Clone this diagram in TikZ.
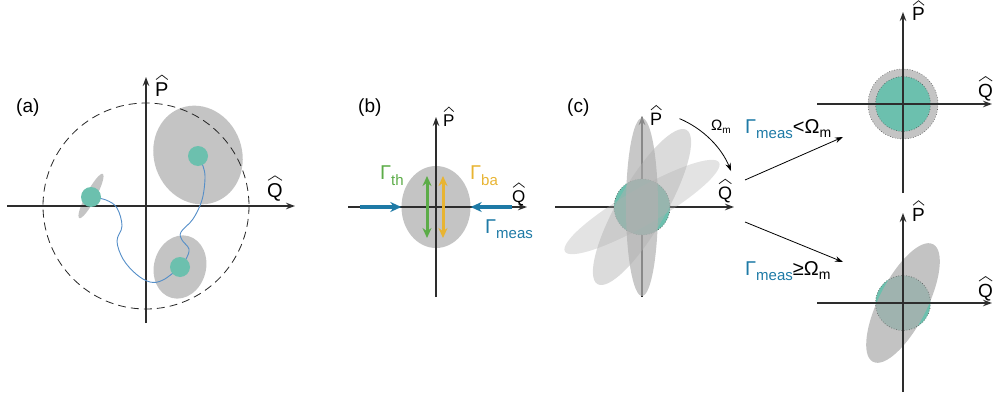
\documentclass[tikz,border=0pt]{standalone}
\usepackage{fontspec}
\setmainfont{Liberation Sans}
\usetikzlibrary{arrows.meta, calc, shapes.geometric, positioning}

\definecolor{qteal}{RGB}{108,192,174}
\definecolor{qgray}{RGB}{196,196,196}
\definecolor{qshade}{RGB}{176,176,176}
\definecolor{qaxis}{RGB}{45,45,45}
\definecolor{qpath}{RGB}{84,142,200}
\definecolor{qmeas}{RGB}{30,122,166}
\definecolor{qth}{RGB}{92,172,72}
\definecolor{qba}{RGB}{232,180,50}

\tikzset{
  qpaxis/.style={draw=qaxis, line width=1.2pt, -{Stealth[length=9pt,width=6.5pt]}},
  axlabel/.style={font=\fontsize{#1}{#1}\selectfont, inner sep=0pt, anchor=base west},
  panellabel/.style={font=\fontsize{19}{19}\selectfont, inner sep=0pt, anchor=base west},
  hatline/.style={draw=black!85, line width=0.8pt, line join=miter}
}
\tikzset{
  noise/.style={fill=qgray},
  squeeze/.style={fill=qshade, fill opacity=#1},
  tealdot/.style={circle, fill=qteal, minimum size=20pt, inner sep=0pt},
  rim/.style={draw=black!70, line width=0.6pt, dotted},
  bound/.style={draw=black!85, line width=0.8pt, dash pattern=on 8pt off 5pt},
  trajectory/.style={draw=qpath, line width=0.9pt},
  ratearrow/.style={draw=qmeas, line width=3.4pt, -{Stealth[length=11pt,width=10pt]}},
  swing/.style={line width=3pt, {Stealth[length=10pt,width=9pt]}-{Stealth[length=10pt,width=9pt]}},
  thinarrow/.style={draw=black, line width=0.8pt, -{Stealth[length=8pt,width=5.5pt]}},
  ratelabel/.style={font=\fontsize{20}{20}\selectfont, inner sep=0pt, anchor=base west}
}
% sub-script set lower and smaller
\newcommand{\lowsub}[3]{\raisebox{-#2pt}{\fontsize{#1}{#1}\selectfont #3}}
% operator letter with its hat: name, position, size, letter
\newcommand{\oplabel}[4]{%
  \node[axlabel=#3] (#1) at (#2) {#4};
  \draw[hatline] ($(#1.north west)+(1,-2.5)$) -- ($(#1.north)+(0,-7)$) -- ($(#1.north east)+(-1,-2.5)$);
}
% quadrature axes round a named origin: left, right, down, up
\newcommand{\qpaxes}[5]{%
  \draw[qpaxis] ($(#1)+(-#2,0)$) -- ($(#1)+(#3,0)$);
  \draw[qpaxis] ($(#1)+(0,#4)$) -- ($(#1)+(0,-#5)$);
}

\begin{document}
\begin{tikzpicture}[x=1pt, y=-1pt]
  \useasboundingbox (0,0) rectangle (993,396);

  % (a) trajectory of the state
  \coordinate (oa) at (146,206);
  \node[panellabel] (la) at (16,112) {(a)};
  \fill[noise, shift={(198,155)}, rotate=110] (0,0) ellipse[x radius=50, y radius=44];
  \fill[noise, shift={(91,196)}, rotate=62] (0,0) ellipse[x radius=25, y radius=5];
  \fill[noise, shift={(180,267)}, rotate=75] (0,0) ellipse[x radius=32, y radius=26];
  \qpaxes{oa}{139}{149}{117}{129}
  \draw[bound] (oa) circle[radius=103];
  \oplabel{pa}{155,96}{20}{P}
  \oplabel{qa}{267,197}{20}{Q}
  \coordinate (pL) at (91,197);
  \coordinate (pD) at (180,267);
  \coordinate (pU) at (198,156);
  \draw[trajectory] plot[smooth, tension=0.6] coordinates {
    (pL) (106,200) (117,208) (122,226) (117,241) (123,259) (136,274)
    (150,282) (163,280) (pD) (186,259) (189,249) (182,240) (181,232)
    (193,219) (202,200) (205,178) (203,166) (pU)};
  \node[tealdot] (dotL) at (pL) {};
  \node[tealdot] (dotD) at (pD) {};
  \node[tealdot] (dotU) at (pU) {};

  % (b) rates
  \coordinate (ob) at (436,207);
  \node[panellabel] (lb) at (358,112) {(b)};
  \node[noise, ellipse, minimum width=69pt, minimum height=82pt, inner sep=0pt] (bell) at (ob) {};
  \qpaxes{ob}{88}{91}{90}{90}
  \oplabel{pb}{443,126}{17}{P}
  \oplabel{qb}{512,202}{17}{Q}
  \coordinate (mL) at (360,207);
  \coordinate (mR) at (512,207);
  \draw[ratearrow] (mL) -- (bell.west);
  \draw[ratearrow] (mR) -- (bell.east);
  \coordinate (thT) at (427,176);
  \coordinate (thB) at (427,238);
  \coordinate (baT) at (443,176);
  \coordinate (baB) at (443,238);
  \draw[swing, draw=qth] (thT) -- (thB);
  \draw[swing, draw=qba] (baT) -- (baB);
  \node[ratelabel, text=qth] (gth) at (380,179) {Γ\lowsub{15}{6}{th}};
  \node[ratelabel, text=qba] (gba) at (470,179) {Γ\lowsub{15}{6}{ba}};
  \node[ratelabel, text=qmeas] (gmeas) at (485,233) {Γ\lowsub{15}{5}{meas}};

  % (c) rotating squeezed state
  \coordinate (oc) at (642,207);
  \node[panellabel] (lc) at (567,112) {(c)};
  \qpaxes{oc}{87}{92}{90}{91}
  \fill[qteal] (oc) circle[radius=28];
  \draw[rim] (oc) circle[radius=28];
  \foreach \ang/\wd/\alp in {30/18/0.35, 60/24/0.45, 90/16/0.7}
    \fill[squeeze=\alp, shift={(oc)}, rotate=\ang] (0,0) ellipse[x radius=89, y radius=\wd];
  \oplabel{pc}{650,125}{18}{P}
  \oplabel{qc}{718,199}{18}{Q}
  \draw[thinarrow] (oc) ++(-67:96) arc[start angle=-67, end angle=-22, radius=96];
  \node[axlabel=15] (om) at (711,130) {Ω\lowsub{10}{3}{m}};

  % branches
  \coordinate (cUp) at (745,180);
  \coordinate (dUp) at (843,137);
  \coordinate (cDn) at (745,222);
  \coordinate (dDn) at (843,262);
  \draw[thinarrow] (cUp) -- (dUp);
  \draw[thinarrow] (cDn) -- (dDn);
  \node[ratelabel] (slow) at (745,133) {{\color{qmeas}Γ\lowsub{15}{5}{meas}}<Ω\lowsub{14}{4}{m}};
  \node[ratelabel] (fast) at (745,275) {{\color{qmeas}Γ\lowsub{15}{5}{meas}}≥Ω\lowsub{14}{4}{m}};

  % upper right: averaged state
  \coordinate (od) at (903,104);
  \fill[qgray] (od) circle[radius=35];
  \draw[rim] (od) circle[radius=35];
  \fill[qteal] (od) circle[radius=27.5];
  \draw[rim] (od) circle[radius=27.5];
  \qpaxes{od}{86}{89}{89}{92}
  \oplabel{pd}{912,21}{19}{P}
  \oplabel{qd}{978,97}{19}{Q}

  % lower right: squeezed state kept
  \coordinate (oe) at (903,303);
  \fill[qteal] (oe) circle[radius=27.5];
  \fill[squeeze=0.76, shift={(oe)}, rotate=63] (0,0) ellipse[x radius=66, y radius=24];
  \draw[rim] (oe) circle[radius=27.5];
  \qpaxes{oe}{86}{89}{89}{90}
  \oplabel{pe}{912,221}{19}{P}
  \oplabel{qe}{978,297}{19}{Q}
\end{tikzpicture}
\end{document}
